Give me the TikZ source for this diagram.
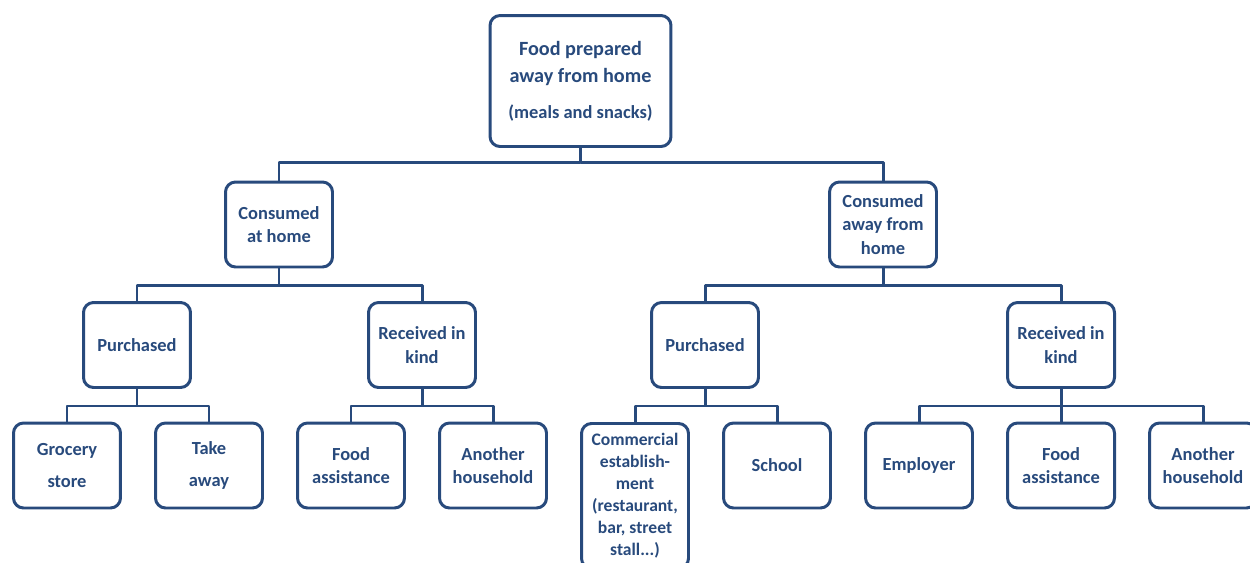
\documentclass[tikz,border=0pt]{standalone}
\usepackage{fontspec}
\setmainfont{Carlito}
\definecolor{treeblue}{HTML}{284A7C}

\begin{document}
\begin{tikzpicture}[
  x=0.02cm,
  y=-0.02cm,
  line join=round,
  box/.style={draw=treeblue,line width=1.7pt,rounded corners=0.2cm,
    minimum width=2.14cm,minimum height=1.7cm,inner sep=1pt,
    align=center,text=treeblue,font=\fontsize{10.5}{13.5}\selectfont\bfseries},
  topbox/.style={box,minimum width=3.62cm,minimum height=2.62cm,
    font=\fontsize{11.5}{15.5}\selectfont\bfseries},
  link/.style={draw=treeblue,line width=1.7pt}
]
  % Keep the original frame (the right and bottom boxes are cut by it).
  \useasboundingbox (0,0) rectangle (1250,562);
  \clip (0,0) rectangle (1250,562);

  % Root.
  \node[topbox] (root) at (580.5,81) {Food prepared\\away from home\\[5pt]{\fontsize{10.5}{15.5}\selectfont(meals and snacks)}};

  % Where the food is eaten.
  \node[box] (athome) at (279,224.5) {Consumed\\at home};
  \node[box] (away) at (883,224.5) {Consumed\\away from\\home};

  % How it is obtained.
  \node[box] (purchA) at (137,345) {Purchased};
  \node[box] (kindA) at (422,345) {Received in\\kind};
  \node[box] (purchB) at (705,345) {Purchased};
  \node[box] (kindB) at (1061,345) {Received in\\kind};

  % Leaves.
  \node[box] (grocery) at (67,465.5) {Grocery\\[5pt]store};
  \node[box] (takeaway) at (209,465.5) {Take\\[5pt]away};
  \node[box] (assistA) at (351,465.5) {Food\\assistance};
  \node[box] (otherA) at (493,465.5) {Another\\household};
  \node[box,minimum height=2.9cm,font=\fontsize{10}{12.5}\selectfont\bfseries,
    anchor=north] (commercial) at (635,422)
    {Commercial\\establish-\\ment\\(restaurant,\\bar, street\\stall...)};
  \node[box] (school) at (777,465.5) {School};
  \node[box] (employer) at (919,465.5) {Employer};
  \node[box] (assistB) at (1061,465.5) {Food\\assistance};
  \node[box] (otherB) at (1203,465.5) {Another\\household};

  % Elbow connectors from each parent to its children.
  \draw[link] (root.south) -- ++(0,15) coordinate (j0) -| (athome.north);
  \draw[link] (j0) -| (away.north);

  \draw[link] (athome.south) -- ++(0,17) coordinate (j1) -| (purchA.north);
  \draw[link] (j1) -| (kindA.north);
  \draw[link] (away.south) -- ++(0,17) coordinate (j2) -| (purchB.north);
  \draw[link] (j2) -| (kindB.north);

  \draw[link] (purchA.south) -- ++(0,17) coordinate (j3) -| (grocery.north);
  \draw[link] (j3) -| (takeaway.north);
  \draw[link] (kindA.south) -- ++(0,17) coordinate (j4) -| (assistA.north);
  \draw[link] (j4) -| (otherA.north);
  \draw[link] (purchB.south) -- ++(0,17) coordinate (j5) -| (commercial.north);
  \draw[link] (j5) -| (school.north);
  \draw[link] (kindB.south) -- ++(0,17) coordinate (j6) -| (employer.north);
  \draw[link] (j6) -- (assistB.north);
  \draw[link] (j6) -| (otherB.north);
\end{tikzpicture}
\end{document}
